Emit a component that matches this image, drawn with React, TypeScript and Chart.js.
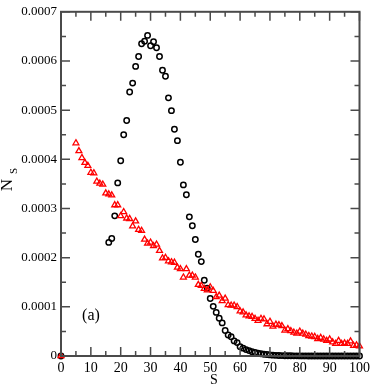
import React, { useEffect, useRef } from "react";
import { Chart, registerables } from "chart.js";

Chart.register(...registerables);

// Tick values
const xMajorTicks = [0, 10, 20, 30, 40, 50, 60, 70, 80, 90, 100];
const xMinorTicks = [5, 15, 25, 35, 45, 55, 65, 75, 85, 95];
const yMajorTicks = [0, 0.0001, 0.0002, 0.0003, 0.0004, 0.0005, 0.0006, 0.0007];
const yMinorTicks = [0.00005, 0.00015, 0.00025, 0.00035, 0.00045, 0.00055, 0.00065];

// Origin point shared by both series
const originS = 0;
const originValue = 0;

// Circle series (black), s = 16 .. 100
const circleStartS = 16;
const circleValues = [
  0.000231, 0.000239, 0.000285, 0.000352, 0.000397, 0.00045, 0.000479, 0.000537, 0.000555, 0.000589,
  0.000609, 0.000635, 0.00064, 0.000652, 0.000631, 0.000639, 0.000627, 0.000609, 0.000581, 0.000569,
  0.000525, 0.000499, 0.000461, 0.000438, 0.000394, 0.000348, 0.000328, 0.000283, 0.000265, 0.000237,
  0.000207, 0.000192, 0.000154, 0.000138, 0.000117, 0.000101, 0.0000887, 0.0000767, 0.0000673, 0.000052,
  0.0000427, 0.0000393, 0.0000307, 0.0000273, 0.000019, 0.000016, 0.000013, 0.000011, 0.0000088, 0.000007,
  0.0000055, 0.0000045, 0.0000035, 0.000003, 0.0000022, 0.0000017, 0.0000013, 0.000001, 0.0000008, 0.0000006,
  0.0000005, 0.0000004, 0.0000003, 0.0000003, 0.0000002, 0.0000002, 0.0000002, 0.0000001, 0.0000001, 0.0000001,
  0.0000001, 0.0000001, 0.0000001, 0.0000001, 0.0000001, 0.0000001, 0.0, 0.0, 0.0, 0.0,
  0.0, 0.0, 0.0, 0.0, 0.0,
];

// Triangle series (red), s = 5 .. 100
const triangleStartS = 5;
const triangleValues = [
  0.000433, 0.000417, 0.000403, 0.000393, 0.000387, 0.000373, 0.000372, 0.000355, 0.000351, 0.000349,
  0.000331, 0.000329, 0.000327, 0.000307, 0.000307, 0.000285, 0.000293, 0.00028, 0.000279, 0.000264,
  0.000274, 0.000257, 0.000255, 0.000237, 0.000229, 0.000231, 0.000224, 0.000227, 0.000214, 0.000199,
  0.0002, 0.000193, 0.000191, 0.00019, 0.00018, 0.000177, 0.00016, 0.000177, 0.000164, 0.000164,
  0.00016, 0.000145, 0.000143, 0.000137, 0.000134, 0.00014, 0.000133, 0.00012, 0.000123, 0.000112,
  0.000117, 0.000104, 0.000103, 0.000103, 0.0001, 0.000091, 0.000089, 0.000083, 0.000081, 0.00008,
  0.000076, 0.000072, 0.000076, 0.000075, 0.000065, 0.00007, 0.00006, 0.000064, 0.000063, 0.000061,
  0.000052, 0.000055, 0.000051, 0.000048, 0.000046, 0.00005, 0.000046, 0.000044, 0.000041, 0.00004,
  0.000039, 0.000035, 0.000037, 0.000034, 0.000031, 0.000034, 0.000028, 0.000025, 0.000031, 0.000025,
  0.000026, 0.000025, 0.00003, 0.000021, 0.000022, 0.00002,
];

const FONT = "Liberation Serif, serif";

const toPoints = (start: number, values: number[]) =>
  values.map((v, i) => ({ x: start + i, y: v }));

const framePlugin = {
  id: "frameTicks",
  afterDraw(chart: any) {
    const { ctx, chartArea, scales } = chart;
    const { left, right, top, bottom } = chartArea;
    const xs = scales.x;
    const ys = scales.y;
    ctx.save();
    ctx.strokeStyle = "#4a4a4a";
    ctx.lineWidth = 1.5;
    const major = 9;
    const minor = 5;
    ctx.beginPath();
    xMajorTicks.forEach((v) => {
      const px = xs.getPixelForValue(v);
      ctx.moveTo(px, bottom);
      ctx.lineTo(px, bottom - major);
      ctx.moveTo(px, top);
      ctx.lineTo(px, top + major);
    });
    xMinorTicks.forEach((v) => {
      const px = xs.getPixelForValue(v);
      ctx.moveTo(px, bottom);
      ctx.lineTo(px, bottom - minor);
      ctx.moveTo(px, top);
      ctx.lineTo(px, top + minor);
    });
    yMajorTicks.forEach((v) => {
      const py = ys.getPixelForValue(v);
      ctx.moveTo(left, py);
      ctx.lineTo(left + major, py);
      ctx.moveTo(right, py);
      ctx.lineTo(right - major, py);
    });
    yMinorTicks.forEach((v) => {
      const py = ys.getPixelForValue(v);
      ctx.moveTo(left, py);
      ctx.lineTo(left + minor, py);
      ctx.moveTo(right, py);
      ctx.lineTo(right - minor, py);
    });
    ctx.stroke();
    ctx.lineWidth = 2;
    ctx.strokeRect(left, top, right - left, bottom - top);

    // texts
    ctx.fillStyle = "#000";
    ctx.textAlign = "center";
    ctx.textBaseline = "middle";
    ctx.font = `16px ${FONT}`;
    ctx.fillText("(a)", 91, 316);
    ctx.font = `14px ${FONT}`;
    ctx.fillText("S", 214, 380);

    ctx.save();
    ctx.translate(8, 185);
    ctx.rotate(-Math.PI / 2);
    ctx.font = `17px ${FONT}`;
    ctx.fillText("N", 0, 0);
    ctx.font = `11px ${FONT}`;
    ctx.fillText("S", 14, 6);
    ctx.restore();
    ctx.restore();
  },
};

export default function App() {
  const ref = useRef<HTMLCanvasElement | null>(null);

  useEffect(() => {
    if (!ref.current) return;
    const chart = new Chart(ref.current, {
      type: "scatter",
      data: {
        datasets: [
          {
            label: "triangles",
            data: [{ x: originS, y: originValue }, ...toPoints(triangleStartS, triangleValues)],
            pointStyle: "triangle",
            pointRadius: 3.4,
            borderColor: "#ff0000",
            backgroundColor: "rgba(0,0,0,0)",
            pointBorderWidth: 1.3,
            order: 0,
          },
          {
            label: "circles",
            data: [{ x: originS, y: originValue }, ...toPoints(circleStartS, circleValues)],
            pointStyle: "circle",
            pointRadius: 2.7,
            borderColor: "#000000",
            backgroundColor: "rgba(0,0,0,0)",
            pointBorderWidth: 1.5,
            order: 1,
          },
        ],
      },
      options: {
        animation: false,
        responsive: false,
        clip: false as any,
        layout: { padding: { top: 6, right: 11, left: 0, bottom: 0 } },
        plugins: { legend: { display: false }, tooltip: { enabled: false } },
        scales: {
          x: {
            type: "linear",
            min: 0,
            max: 100,
            grid: { display: false, drawTicks: false },
            border: { display: false },
            afterBuildTicks: (s: any) => {
              s.ticks = xMajorTicks.map((v) => ({ value: v }));
            },
            afterFit: (s: any) => {
              s.height = 32;
            },
            ticks: {
              color: "#000",
              padding: 4,
              maxRotation: 0,
              font: { family: FONT, size: 14 },
              callback: (v: any) => String(v),
            },
          },
          y: {
            type: "linear",
            min: 0,
            max: 0.0007,
            grid: { display: false, drawTicks: false },
            border: { display: false },
            afterBuildTicks: (s: any) => {
              s.ticks = yMajorTicks.map((v) => ({ value: v }));
            },
            afterFit: (s: any) => {
              s.width = 61;
            },
            ticks: {
              color: "#000",
              padding: 4,
              font: { family: FONT, size: 13 },
              callback: (v: any) => (Number(v) === 0 ? "0" : Number(v).toFixed(4)),
            },
          },
        },
      },
      plugins: [framePlugin],
    });
    return () => chart.destroy();
  }, []);

  return (
    <div style={{ position: "fixed", left: 0, top: 0, width: 374, height: 388, background: "#fff" }}>
      <canvas ref={ref} width={374} height={388} style={{ display: "block" }} />
    </div>
  );
}
